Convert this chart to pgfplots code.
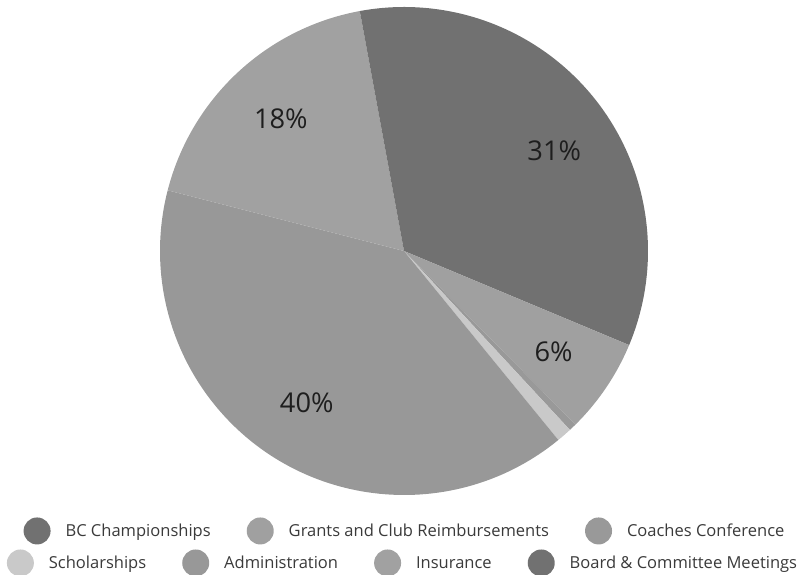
\documentclass[border=0pt]{standalone}
\usepackage{pgfplots}
\pgfplotsset{compat=1.18}
\usepackage{pgfplotstable}
\usepackage{fontspec}
\setmainfont{Open Sans}

\definecolor{cBC}{HTML}{717171}
\definecolor{cGrant}{HTML}{A0A0A0}
\definecolor{cCoach}{HTML}{999999}
\definecolor{cSchol}{HTML}{C9C9C9}
\definecolor{cAdmin}{HTML}{989898}
\definecolor{cIns}{HTML}{A1A1A1}
\definecolor{cBoard}{HTML}{717171}
\definecolor{labtext}{HTML}{1E1E1E}
\definecolor{legtext}{HTML}{3A3A3A}

% share of each slice in percent, clockwise from 12 o'clock
\pgfplotstableread{
value col lab
31.3 cBC 1
6.3 cGrant 1
0.5 cCoach 0
1.0 cSchol 0
39.9 cAdmin 1
18.1 cIns 1
2.9 cBoard 0
}\piedata

\pgfplotsset{
  pieaxis/.style={
    x=1cm, y=1cm, disabledatascaling,
    xmin=-8.08, xmax=8.0, ymin=-6.48, ymax=5.02,
    hide axis, clip=false,
    at={(8.08cm,6.48cm)}, anchor=origin,
  },
  pielegend/.style={
    legend columns=-1,
    legend cell align=left,
    legend image code/.code={\fill[##1, draw=none] (0.27cm,0.02cm) circle (0.27cm);},
    legend style={draw=none, fill=none, inner sep=0pt, anchor=center,
      font=\fontsize{9.4}{11}\selectfont\color{legtext},
      nodes={inner sep=0pt},
      /tikz/every odd column/.append style={column sep=0.30cm},
      /tikz/every even column/.append style={column sep=0.72cm}},
  },
}

\begin{document}
\begin{tikzpicture}
\useasboundingbox (0,0) rectangle (16.08,11.5);
\begin{axis}[pieaxis, pielegend,
  legend style={at={(rel axis cs:0.5,0.0209)}}]
  \def\R{4.88}
  \def\angA{90}
  \pgfplotstablegetrowsof{\piedata}
  \pgfmathtruncatemacro\N{\pgfplotsretval-1}
  \pgfplotsforeachungrouped \i in {0,...,\N}{
    \pgfplotstablegetelem{\i}{value}\of\piedata \let\v\pgfplotsretval
    \pgfplotstablegetelem{\i}{col}\of\piedata \let\c\pgfplotsretval
    \pgfplotstablegetelem{\i}{lab}\of\piedata \let\l\pgfplotsretval
    \pgfmathsetmacro\angB{\angA-3.6*\v}
    \pgfmathsetmacro\angM{(\angA+\angB)/2}
    \pgfmathtruncatemacro\p{round(\v)}
    \edef\wedge{\noexpand\fill[\c] (axis cs:0,0) -- (axis cs:{\R*cos(\angA)},{\R*sin(\angA)})
      arc[start angle=\angA, end angle=\angB, radius=\R cm] -- cycle;}
    \wedge
    \ifnum\l=1
      \edef\lab{\noexpand\node[labtext, font=\noexpand\fontsize{15.5}{18}\noexpand\selectfont]
        at (axis cs:{0.74*\R*cos(\angM)},{0.74*\R*sin(\angM)}) {\p\noexpand\%};}
      \lab
    \fi
    \let\angA\angB
  }
  \addlegendimage{fill=cSchol}\addlegendentry{Scholarships}
  \addlegendimage{fill=cAdmin}\addlegendentry{Administration}
  \addlegendimage{fill=cIns}\addlegendentry{Insurance}
  \addlegendimage{fill=cBoard}\addlegendentry{Board \& Committee Meetings}
\end{axis}
\begin{axis}[pieaxis, pielegend,
  legend style={at={(rel axis cs:0.5025,0.0766)}}]
  \addlegendimage{fill=cBC}\addlegendentry{BC Championships}
  \addlegendimage{fill=cGrant}\addlegendentry{Grants and Club Reimbursements}
  \addlegendimage{fill=cCoach}\addlegendentry{Coaches Conference}
\end{axis}
\end{tikzpicture}
\end{document}
